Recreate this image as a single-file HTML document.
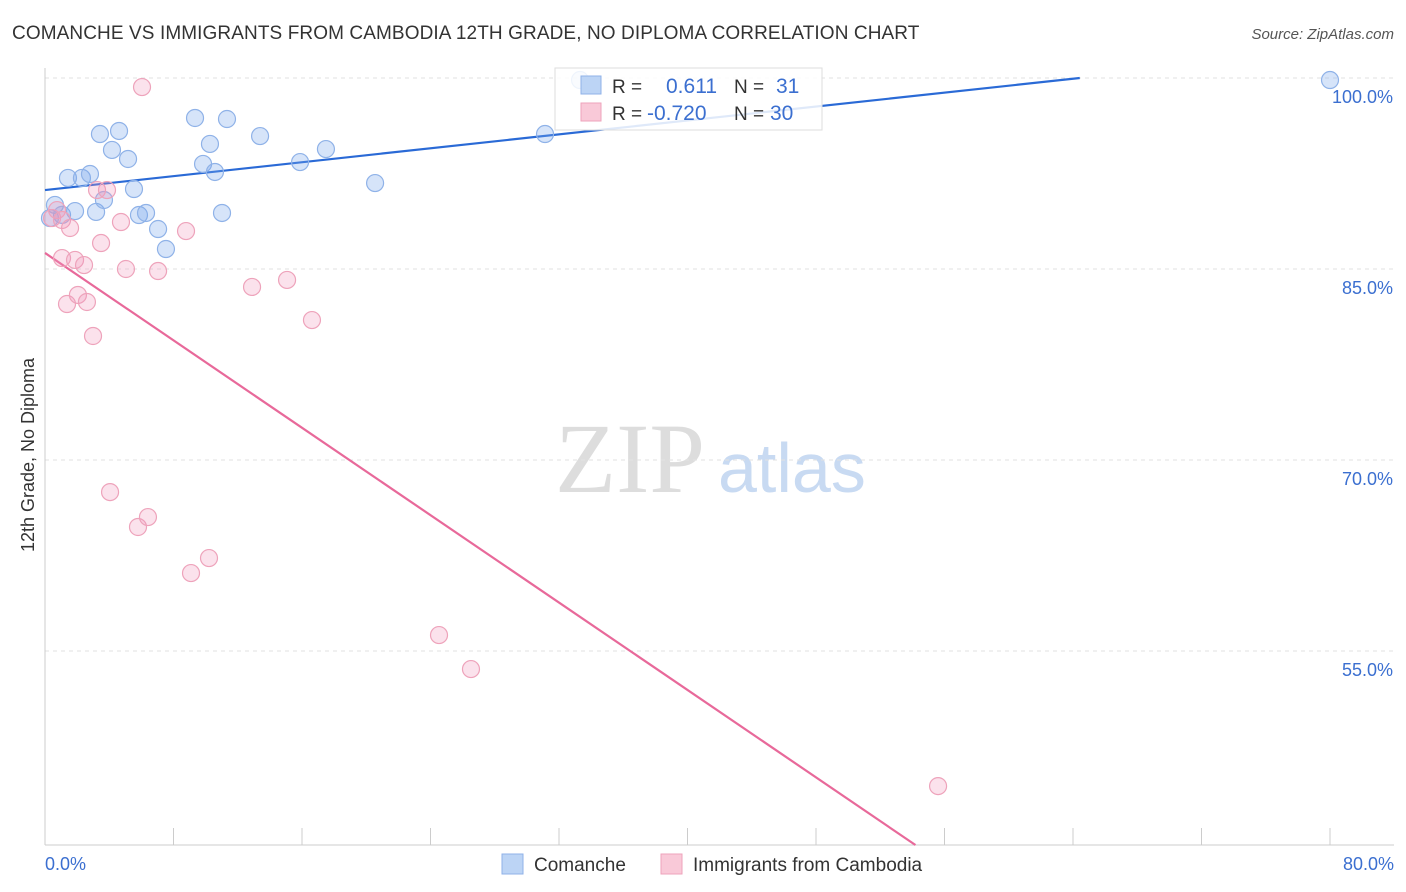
<!DOCTYPE html>
<html><head><meta charset="utf-8"><style>
body{margin:0;background:#fff;font-family:"Liberation Sans",sans-serif;}
svg{display:block}
</style></head><body>
<svg id="chart" width="1406" height="892">
<text x="12" y="39" font-size="19" letter-spacing="0.1" fill="#333">COMANCHE VS IMMIGRANTS FROM CAMBODIA 12TH GRADE, NO DIPLOMA CORRELATION CHART</text>
<text x="1394" y="39" font-size="15" fill="#555" font-style="italic" text-anchor="end">Source: ZipAtlas.com</text>
<text transform="translate(34,455) rotate(-90)" font-size="18" fill="#333" text-anchor="middle">12th Grade, No Diploma</text>
<text x="555" y="492" font-size="100" fill="#ddd" font-family="Liberation Serif,serif">ZIP</text>
<text x="718" y="492" font-size="70" fill="#c8daf2">atlas</text>
<g id="grid"></g><g id="axes"></g><g id="lines"></g><g id="pts"></g>
<g>
<rect x="555" y="68" width="267" height="62" fill="#fff" fill-opacity="0.85" stroke="#ddd"/>
<rect x="581" y="76" width="20" height="18" fill="#bcd4f5" stroke="#8fb2e8"/>
<rect x="581" y="103" width="20" height="18" fill="#f9c9d8" stroke="#eea3bb"/>
<text x="612" y="93" font-size="19" fill="#333">R = </text><text x="666" y="93" font-size="21" fill="#3b6fd0">0.611</text>
<text x="734" y="93" font-size="19" fill="#333">N = </text><text x="776" y="93" font-size="21" fill="#3b6fd0">31</text>
<text x="612" y="120" font-size="19" fill="#333">R = </text><text x="647" y="120" font-size="21" fill="#3b6fd0">-0.720</text>
<text x="734" y="120" font-size="19" fill="#333">N = </text><text x="770" y="120" font-size="21" fill="#3b6fd0">30</text>
</g>
<g>
<rect x="502" y="854" width="21" height="20" fill="#bcd4f5" stroke="#8fb2e8"/>
<text x="534" y="871" font-size="19" fill="#333">Comanche</text>
<rect x="661" y="854" width="21" height="20" fill="#f9c9d8" stroke="#eea3bb"/>
<text x="693" y="871" font-size="19" fill="#333">Immigrants from Cambodia</text>
</g>
</svg>
<script>
const blueX=[0.62,1.06,1.43,1.87,2.30,2.80,3.18,3.42,3.67,4.17,4.61,5.17,5.54,5.85,6.29,7.04,7.53,9.34,9.84,10.27,10.58,11.02,11.33,13.39,15.88,17.49,20.55,31.13,33.31,80,0.31];
const blueY=[90.03,89.25,92.15,89.55,92.15,92.46,89.48,95.6,90.42,94.35,95.84,93.64,91.28,89.24,89.4,88.14,86.57,96.86,93.25,94.82,92.62,89.4,96.78,95.44,93.4,94.42,91.75,95.6,99.84,99.84,89.0];
const pinkX=[6.04,0.44,0.75,1.06,1.56,1.06,1.87,2.43,1.37,2.05,2.61,2.99,3.49,3.24,3.86,4.73,5.04,7.04,8.78,12.89,15.07,16.62,4.05,5.79,6.41,9.09,10.21,24.53,26.52,55.6];
const pinkY=[99.29,89.0,89.63,88.85,88.22,85.86,85.71,85.31,82.25,82.96,82.41,79.74,87.04,91.2,91.2,88.69,85.0,84.84,87.98,83.59,84.14,80.99,67.48,64.74,65.52,61.12,62.3,56.25,53.58,44.39];
const yTicks=[100,85,70,55];
const xTickLabels=["0.0%","80.0%"];
const blueTrend=[91.2,0.1366];
const pinkTrend=[86.26,-0.858];
const X0=45,X1=1330,YT=78,YB=845;
const sx=v=>X0+(v/80)*(X1-X0);
const sy=v=>YT+(100-v)*(191/15);
const NS="http://www.w3.org/2000/svg";
function mk(t,a,p){const e=document.createElementNS(NS,t);for(const k in a)e.setAttribute(k,a[k]);p.appendChild(e);return e;}
const grid=document.getElementById('grid'),axes=document.getElementById('axes');
yTicks.forEach(v=>{
 const l=mk('line',{x1:X0,x2:1394,y1:sy(v),y2:sy(v),stroke:'#e2e2e2','stroke-dasharray':'4,4'},grid);
 
 
 const t=mk('text',{x:1393,y:sy(v)+25,'font-size':18,fill:'#3b6fd0','text-anchor':'end'},axes);
 t.textContent=v.toFixed(1)+'%';
 
 
});
mk('line',{x1:X0,x2:X0,y1:68,y2:YB,stroke:'#ccc'},axes);
mk('line',{x1:X0,x2:1394,y1:YB,y2:YB,stroke:'#ccc'},axes);
for(let i=0;i<=10;i++){const x=sx(i*8);const t=mk('line',{x1:x,x2:x,y1:828,y2:YB,stroke:'#ccc'},axes);}
[[0,'start',45],[80,'end',1394]].forEach((d,i)=>{const t=mk('text',{x:d[2],y:870,'font-size':18,fill:'#3b6fd0','text-anchor':d[1]},axes);t.textContent=xTickLabels[i];});
const lines=document.getElementById('lines');
const bx=(100-blueTrend[0])/blueTrend[1];
const bl=mk('line',{x1:sx(0),y1:sy(blueTrend[0]),x2:sx(bx),y2:sy(100),stroke:'#2a6ad6','stroke-width':2.2},lines);

const yb=100-(YB-YT)*15/191;const px=(yb-pinkTrend[0])/pinkTrend[1];
const pl=mk('line',{x1:sx(0),y1:sy(pinkTrend[0]),x2:sx(px),y2:sy(yb),stroke:'#e8699a','stroke-width':2.2},lines);

const pts=document.getElementById('pts');
blueX.forEach((x,i)=>{const c=mk('circle',{cx:sx(x),cy:sy(blueY[i]),r:8.5,fill:'rgba(120,165,235,0.3)',stroke:'#8fb2e8','stroke-width':1.2},pts);

});
pinkX.forEach((x,i)=>{const c=mk('circle',{cx:sx(x),cy:sy(pinkY[i]),r:8.5,fill:'rgba(240,150,185,0.28)',stroke:'#eea3bb','stroke-width':1.2},pts);

});
</script>
</body></html>
